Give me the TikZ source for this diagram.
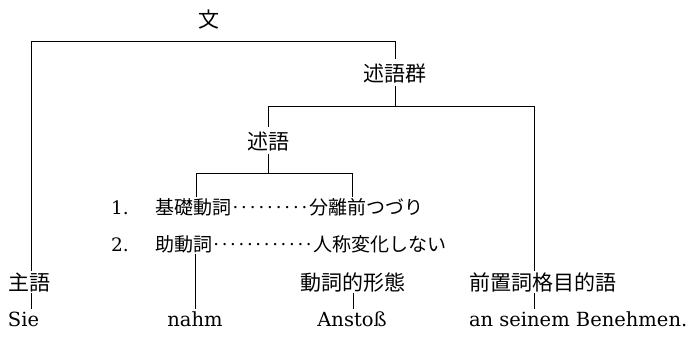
\documentclass[tikz,border=0pt]{standalone}
\usepackage{fontspec}
\newfontfamily\jp{Noto Sans CJK JP}
\newfontfamily\lat{DejaVu Serif}
\newcommand\dotleader[1]{\hbox to #1{\xleaders\hbox to 8.4pt{\hss\raisebox{5.5pt}{\lat\fontsize{18}{18}\selectfont .}\hss}\hfill}}
\begin{document}
\begin{tikzpicture}[x=1pt,y=-1pt]
\tikzset{
  lab/.style={font=\jp\fontsize{21}{21}\selectfont, inner sep=0pt, outer sep=0pt, text height=17pt, text depth=0pt, anchor=base},
  itm/.style={font=\jp\fontsize{19}{19}\selectfont, inner sep=0pt, outer sep=0pt, text height=15pt, text depth=0pt, anchor=base west},
  word/.style={font=\lat\fontsize{19.5}{19.5}\selectfont, inner sep=0pt, outer sep=0pt, text height=14.5pt, text depth=0pt, anchor=base},
  num/.style={font=\lat\fontsize{18.5}{18.5}\selectfont, inner sep=0pt, anchor=base west},
  conn/.style={line width=0.9pt, black}
}
\useasboundingbox (0,0) rectangle (699,343);
% nodes
\node[lab] (bun) at (209,27) {文};
\node[lab] (gun) at (395,81) {述語群};
\node[lab] (jutsu) at (268,149) {述語};
\node[num] (n1) at (111,214) {1.};
\node[itm] (i1) at (155,214) {基礎動詞\dotleader{78pt}分離前つづり};
\node[num] (n2) at (111,251) {2.};
\node[itm] (i2) at (155,251) {助動詞\dotleader{101pt}人称変化しない};
\node[lab, anchor=base west] (shugo) at (9,290) {主語};
\node[lab] (doushi) at (353,290) {動詞的形態};
\node[lab, anchor=base west] (maeoki) at (469,290) {前置詞格目的語};
\node[word, anchor=base west] (sie) at (8,326) {Sie};
\node[word] (nahm) at (195,326) {nahm};
\node[word] (anstoss) at (352,326) {Anstoß};
\node[word, anchor=base west] (ben) at (469,326) {an seinem Benehmen.};
% bracket corners
\coordinate (A1) at (31,41);
\coordinate (A2) at (395,41);
\coordinate (B1) at (268,106);
\coordinate (B2) at (534,106);
\coordinate (C1) at (196,173);
\coordinate (C2) at (352,173);
% connectors
\draw[conn, shorten <=2pt, shorten >=5pt] (A1 |- shugo.north) -- (A1) -- (A2) -- (gun.north);
\draw[conn, shorten <=5pt] (gun.south) -- (gun.south |- B1);
\draw[conn, shorten <=5pt, shorten >=2pt] (jutsu.north) -- (B1) -- (B2) -- (B2 |- maeoki.north);
\draw[conn, shorten <=5pt] (jutsu.south) -- (jutsu.south |- C1);
\draw[conn, shorten <=2pt, shorten >=2pt] (C1 |- i1.north) -- (C1) -- (C2) -- (C2 |- i1.north);
\draw[conn, shorten <=3pt, shorten >=3pt] (nahm.north |- i2.south) -- (nahm.north);
\draw[conn, shorten <=3pt, shorten >=3pt] (A1 |- shugo.south) -- (A1 |- sie.north);
\draw[conn, shorten <=3pt, shorten >=3pt] (doushi.south) -- (doushi.south |- anstoss.north);
\draw[conn, shorten <=3pt, shorten >=3pt] (B2 |- maeoki.south) -- (B2 |- ben.north);
\end{tikzpicture}
\end{document}
